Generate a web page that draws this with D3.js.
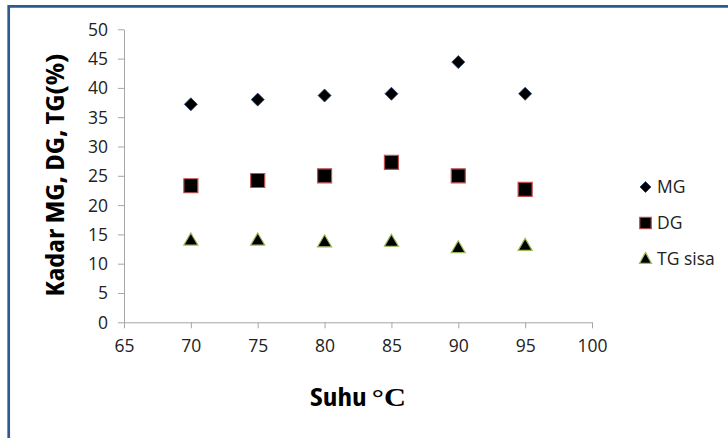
<!DOCTYPE html>
<html>
<head>
<meta charset="utf-8">
<script src="https://cdn.jsdelivr.net/npm/d3@7/dist/d3.min.js"></script>
<style>
  html, body { margin: 0; padding: 0; background: #fff; }
  svg { display: block; }
</style>
</head>
<body>
<svg id="chart" width="728" height="438"></svg>
<script>
// Kadar MG, DG, TG vs suhu — scatter, three series.

const suhu = [70, 75, 80, 85, 90, 95];
const mg = [37.2, 38.0, 38.7, 39.0, 44.4, 39.0];
const dg = [23.3, 24.2, 25.0, 27.3, 25.0, 22.7];
const tgSisa = [14.0, 14.0, 13.7, 13.8, 12.7, 13.1];

const xTicks = [65, 70, 75, 80, 85, 90, 95, 100];
const yTicks = [0, 5, 10, 15, 20, 25, 30, 35, 40, 45, 50];

const seriesNames = ["MG", "DG", "TG sisa"];

const W = 728, H = 438;
const X0 = 124, X1 = 592, Y0 = 322.3, Y1 = 29.3;
const TICK_FONT = "17.5px 'Open Sans', sans-serif";

const svg = d3.select("#chart");

const x = d3.scaleLinear().domain([65, 100]).range([X0, X1]);
const y = d3.scaleLinear().domain([0, 50]).range([Y0, Y1]);

// frame (only top and left visible in the crop)
svg.append("path")
  .attr("d", `M8.7,${H} L8.7,6.3 L${W},6.3`)
  .attr("fill", "none").attr("stroke", "#2e5a93").attr("stroke-width", 2.7);

const xAxis = d3.axisBottom(x).tickValues(xTicks).tickSizeInner(6).tickSizeOuter(0).tickPadding(11);
const yAxis = d3.axisLeft(y).tickValues(yTicks).tickSizeInner(6).tickSizeOuter(0).tickPadding(10);

const styleAxis = (s) => {
  s.select(".domain").attr("stroke", "#a6a6a6");
  s.selectAll(".tick line").attr("stroke", "#a6a6a6");
  s.selectAll("text").style("font", TICK_FONT).style("fill", "#222");
};

svg.append("g").attr("transform", `translate(0,${Y0})`).call(xAxis).call(styleAxis);
svg.append("g").attr("transform", `translate(${X0},0)`).call(yAxis).call(styleAxis)
  .call((s) => s.selectAll("text").attr("dy", "0.34em"));

// axis titles
svg.append("text")
  .attr("transform", `translate(64,175) rotate(-90)`)
  .attr("text-anchor", "middle")
  .attr("textLength", 243).attr("lengthAdjust", "spacingAndGlyphs")
  .style("font", "bold 24px 'Open Sans', sans-serif")
  .style("font-stretch", "80%")
  .style("fill", "#000")
  .text("Kadar MG, DG, TG(%)");

const xt = svg.append("text")
  .attr("x", 310).attr("y", 406)
  .attr("textLength", 96).attr("lengthAdjust", "spacingAndGlyphs")
  .style("font", "bold 24px 'Open Sans', sans-serif")
  .style("font-stretch", "80%")
  .style("fill", "#000");
xt.append("tspan").text("Suhu ");
xt.append("tspan").style("font-family", "'Liberation Serif', serif").style("font-size", "25px").text("°C");

// marker shapes
const diamond = (s) => `M0,${-s / 2}L${s / 2},0L0,${s / 2}L${-s / 2},0Z`;
const square = (s) => `M${-s / 2},${-s / 2}h${s}v${s}h${-s}Z`;
const triangle = (w, h) => `M0,${-h * 0.6}L${w / 2},${h * 0.4}L${-w / 2},${h * 0.4}Z`;

const marks = [
  { name: seriesNames[0], values: mg, path: diamond(13), legendPath: diamond(11), stroke: "#1f3f73", sw: 0.8 },
  { name: seriesNames[1], values: dg, path: square(14), legendPath: square(11.5), stroke: "#c0504d", sw: 1.2 },
  { name: seriesNames[2], values: tgSisa, path: triangle(14, 12), legendPath: triangle(12, 11), stroke: "#9bbb59", sw: 1.2 },
];

marks.forEach((m) => {
  svg.append("g").selectAll("path")
    .data(suhu.map((s, i) => ({ s, v: m.values[i] })))
    .enter().append("path")
    .attr("transform", (d) => `translate(${x(d.s)},${y(d.v)})`)
    .attr("d", m.path)
    .attr("fill", "#000")
    .attr("stroke", m.stroke).attr("stroke-width", m.sw);
});

// legend
const legend = svg.append("g").selectAll("g")
  .data(marks).enter().append("g")
  .attr("transform", (d, i) => `translate(645.5,${187 + i * 36})`);
legend.append("path").attr("d", (d) => d.legendPath)
  .attr("fill", "#000").attr("stroke", (d) => d.stroke).attr("stroke-width", (d) => d.sw);
legend.append("text").attr("x", 11.5).attr("dy", "0.36em")
  .style("font", TICK_FONT).style("fill", "#222")
  .text((d) => d.name);
</script>
</body>
</html>
